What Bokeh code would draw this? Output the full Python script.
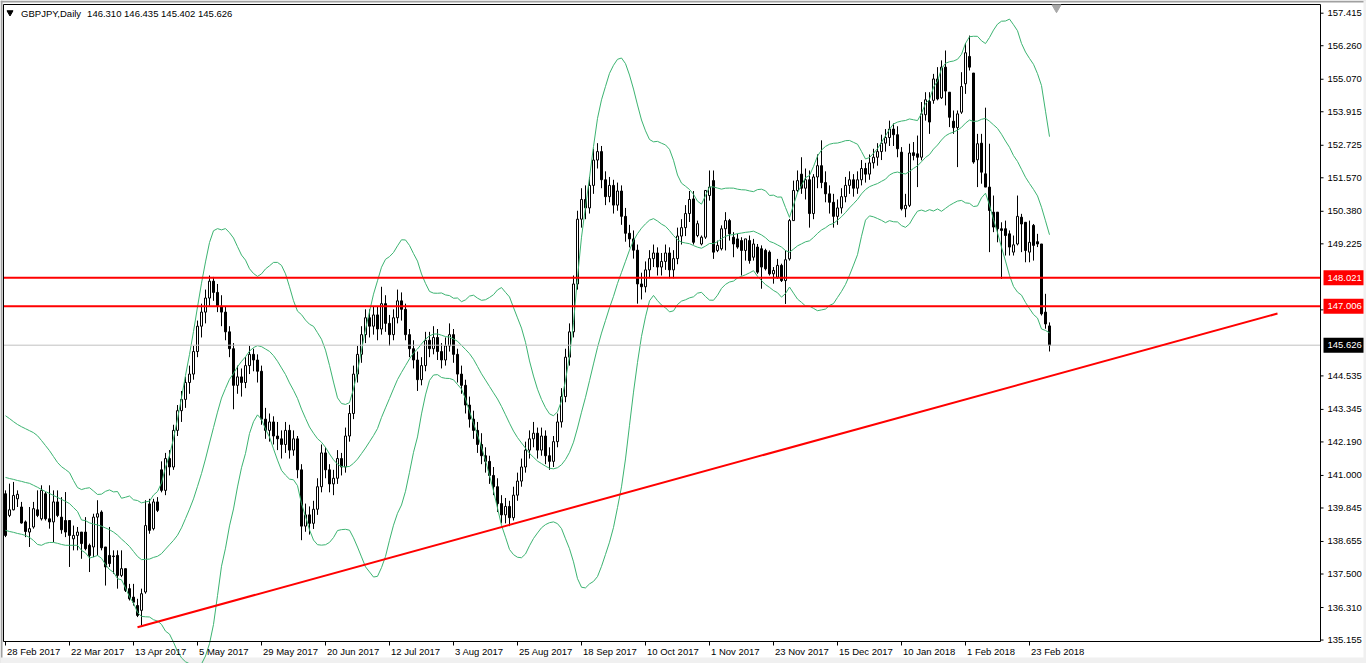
import numpy as np
import pandas as pd
from bokeh.plotting import figure
from bokeh.models import Range1d, Label, ColumnDataSource
from bokeh.core.properties import value
from bokeh.embed import file_html
from bokeh.resources import INLINE

FONT = "Liberation Sans"
FS = "9.5px"

symbol_title = "GBPJPY,Daily"
last_ohlc_text = "146.310 146.435 145.402 145.626"

# trading days shown (daily bars, Christmas / New Year have no bar)
dates = pd.bdate_range("2017-02-28", "2018-03-02")
dates = dates[~dates.isin(pd.to_datetime(["2017-12-25", "2018-01-01"]))]

opens = [
    140.35, 139.58, 139.78, 140.17, 139.88, 139.35, 138.99, 139.17, 139.78, 139.46,
    140.35, 139.46, 139.35, 140.06, 139.52, 139.40, 139.40, 138.75, 138.87, 138.99,
    138.99, 138.52, 138.46, 139.52, 139.70, 138.46, 138.16, 138.14, 138.16, 137.45,
    137.69, 136.98, 136.68, 136.38, 136.21, 136.86, 139.99, 139.11, 140.06, 141.20,
    140.47, 141.60, 141.30, 142.60, 143.30, 143.70, 144.30, 144.60, 145.40, 146.30,
    146.80, 147.30, 147.90, 147.50, 147.00, 146.80, 146.10, 145.50, 144.20, 144.50,
    144.30, 144.90, 145.30, 145.10, 144.70, 143.00, 142.60, 142.90, 142.40, 142.30,
    142.10, 142.60, 141.90, 142.30, 141.20, 139.20, 139.60, 139.30, 139.80, 140.60,
    141.80, 141.20, 140.70, 140.90, 141.60, 141.30, 142.40, 143.20, 144.60, 145.30,
    146.00, 146.60, 146.30, 146.70, 146.20, 147.10, 146.40, 146.00, 146.60, 147.20,
    146.90, 146.00, 145.50, 145.10, 144.40, 144.90, 145.80, 145.50, 145.90, 145.40,
    145.10, 145.60, 146.00, 145.30, 144.60, 144.20, 143.50, 143.00, 142.60, 142.10,
    141.70, 141.50, 141.00, 140.60, 140.00, 139.60, 139.90, 139.50, 140.30, 140.80,
    141.30, 141.90, 142.30, 142.50, 141.90, 142.40, 141.70, 141.50, 142.20, 142.90,
    143.80, 145.20, 146.10, 147.80, 150.10, 150.80, 150.50, 151.30, 152.20, 152.50,
    151.50, 150.90, 151.30, 150.60, 151.10, 150.20, 149.60, 149.40, 149.00, 147.80,
    147.70, 148.30, 148.70, 148.90, 148.40, 148.60, 148.90, 148.30, 148.70, 149.50,
    149.80, 150.30, 150.82, 149.52, 149.22, 149.46, 150.94, 151.47, 148.99, 149.05,
    149.76, 150.05, 149.46, 149.40, 149.34, 148.99, 149.34, 148.75, 149.11, 149.05,
    148.99, 148.93, 148.16, 148.04, 148.46, 147.92, 148.69, 150.05, 151.12, 151.70,
    151.20, 151.50, 150.30, 151.60, 152.00, 151.40, 151.00, 150.70, 150.20, 150.50,
    150.90, 151.30, 151.50, 151.20, 151.50, 151.90, 151.70, 152.10, 152.30, 152.50,
    152.80, 153.00, 153.30, 153.10, 152.48, 150.47, 150.59, 152.46, 152.42, 152.30,
    153.81, 154.28, 154.32, 155.08, 154.41, 155.50, 154.61, 153.58, 153.35, 153.90,
    154.91, 155.88, 155.29, 152.21, 152.80, 151.71, 151.24, 150.35, 150.35, 149.76,
    149.76, 149.58, 148.93, 149.22, 150.17, 149.99, 148.93, 149.88, 149.30, 149.22,
    146.80, 146.310,
]
highs = [
    140.47, 140.71, 140.77, 140.47, 140.06, 139.40, 139.88, 140.06, 140.47, 140.65,
    140.41, 140.65, 140.47, 140.47, 140.23, 140.41, 139.40, 139.22, 139.17, 138.99,
    139.52, 138.58, 139.64, 140.12, 139.76, 138.46, 139.17, 138.34, 138.34, 138.34,
    137.69, 137.15, 137.15, 136.62, 136.98, 140.12, 140.17, 140.17, 140.23, 141.50,
    141.80, 141.90, 142.80, 143.50, 144.00, 144.50, 144.90, 145.60, 146.50, 147.10,
    147.60, 148.10, 148.05, 147.80, 147.40, 147.00, 146.30, 145.70, 144.90, 144.80,
    145.20, 145.60, 145.50, 145.30, 144.90, 143.40, 143.20, 143.10, 142.90, 142.60,
    142.90, 142.80, 142.60, 142.40, 141.40, 140.00, 139.90, 140.10, 140.90, 142.10,
    142.00, 141.40, 141.20, 141.90, 141.80, 142.70, 143.50, 144.90, 145.60, 146.30,
    146.90, 146.90, 147.00, 147.00, 147.70, 147.40, 146.70, 146.90, 147.60, 147.50,
    147.10, 146.20, 145.80, 145.40, 145.20, 146.10, 146.10, 146.30, 146.20, 145.70,
    145.90, 146.40, 146.20, 145.50, 144.90, 144.40, 143.80, 143.30, 142.90, 142.50,
    142.00, 141.70, 141.30, 140.90, 140.30, 140.20, 140.10, 140.60, 141.10, 141.60,
    142.20, 142.60, 142.90, 142.70, 142.70, 142.60, 142.00, 142.40, 143.20, 144.10,
    145.50, 146.40, 148.10, 150.40, 151.20, 151.30, 151.60, 152.60, 152.80, 152.70,
    151.80, 151.60, 151.50, 151.40, 151.30, 150.50, 149.90, 149.70, 149.20, 148.20,
    148.60, 149.00, 149.20, 149.10, 148.90, 149.20, 149.10, 149.00, 149.80, 150.10,
    150.60, 151.10, 151.10, 150.05, 149.52, 151.12, 151.83, 151.83, 149.34, 149.88,
    150.35, 150.11, 149.64, 149.58, 149.46, 149.40, 149.52, 149.40, 149.22, 149.17,
    149.05, 148.99, 148.40, 148.69, 148.52, 148.99, 150.11, 151.47, 151.83, 152.30,
    151.90, 151.83, 151.70, 152.40, 152.90, 151.80, 151.30, 151.00, 150.80, 151.20,
    151.60, 151.80, 151.70, 151.80, 152.20, 152.10, 152.40, 152.60, 152.80, 153.10,
    153.30, 153.60, 153.50, 153.40, 152.66, 151.00, 152.78, 152.84, 153.07, 154.26,
    154.61, 154.61, 155.26, 155.50, 155.74, 156.09, 154.61, 153.96, 153.96, 155.32,
    156.35, 156.62, 155.29, 153.13, 153.13, 154.06, 152.78, 150.94, 150.35, 149.99,
    150.05, 149.70, 149.52, 150.94, 150.29, 149.99, 150.05, 149.93, 149.58, 149.22,
    147.45, 146.435,
]
lows = [
    138.81, 139.52, 139.76, 139.88, 139.29, 138.81, 138.46, 139.11, 139.52, 139.40,
    139.40, 139.11, 138.63, 139.52, 138.93, 138.81, 137.75, 138.34, 138.34, 138.04,
    138.34, 137.57, 138.10, 138.16, 138.34, 137.09, 137.75, 137.51, 136.98, 137.39,
    136.86, 136.56, 136.38, 135.97, 135.67, 136.80, 138.93, 139.05, 139.70, 140.40,
    140.30, 141.00, 141.20, 142.40, 142.90, 143.40, 143.90, 144.40, 145.20, 145.90,
    146.40, 147.00, 147.20, 146.80, 146.30, 145.80, 145.20, 143.35, 143.90, 143.80,
    144.10, 144.60, 144.70, 144.30, 142.80, 142.30, 142.20, 142.10, 141.90, 141.60,
    141.80, 141.60, 141.70, 140.90, 138.70, 139.00, 138.90, 139.10, 139.60, 140.40,
    140.90, 140.40, 140.30, 140.70, 141.00, 141.10, 142.20, 143.00, 144.30, 145.00,
    145.70, 145.90, 146.00, 145.80, 146.00, 146.10, 145.60, 145.80, 146.40, 146.50,
    145.80, 145.20, 144.80, 144.00, 144.20, 144.70, 145.20, 145.30, 145.10, 144.80,
    144.90, 145.40, 145.00, 144.30, 143.90, 143.20, 142.70, 142.30, 141.80, 141.40,
    141.10, 140.70, 140.30, 139.70, 139.30, 139.30, 139.20, 139.40, 140.10, 140.60,
    141.10, 141.60, 142.00, 141.60, 141.70, 141.40, 141.20, 141.30, 142.00, 142.70,
    143.60, 144.90, 145.90, 147.60, 149.80, 150.10, 150.30, 151.00, 151.90, 151.20,
    150.60, 150.70, 150.30, 150.40, 149.90, 149.30, 149.10, 148.70, 147.10, 147.25,
    147.50, 148.00, 148.40, 148.10, 148.10, 148.30, 148.00, 148.00, 148.50, 149.20,
    149.50, 150.00, 149.20, 149.46, 149.17, 149.40, 150.76, 148.69, 148.93, 148.99,
    148.99, 149.34, 148.75, 149.05, 148.10, 148.63, 148.52, 148.63, 148.16, 147.63,
    148.28, 148.10, 147.81, 147.98, 147.87, 147.09, 148.63, 150.05, 151.05, 151.00,
    150.80, 149.80, 150.10, 151.20, 151.20, 150.70, 150.30, 149.80, 149.90, 150.30,
    150.70, 151.00, 150.90, 151.00, 151.30, 151.40, 151.50, 151.90, 152.00, 152.20,
    152.50, 152.70, 152.70, 152.30, 150.41, 150.17, 150.53, 152.19, 151.24, 152.19,
    153.60, 153.13, 154.20, 154.32, 154.37, 154.14, 153.37, 153.13, 151.95, 153.84,
    154.55, 155.38, 152.07, 151.24, 151.36, 151.24, 148.93, 149.64, 149.28, 147.98,
    148.81, 148.81, 148.81, 149.17, 148.93, 148.57, 148.57, 148.63, 149.11, 146.68,
    146.21, 145.402,
]
closes = [
    138.87, 139.78, 140.29, 140.33, 139.31, 139.01, 139.11, 139.82, 139.58, 140.47,
    139.46, 139.35, 140.06, 139.58, 139.07, 138.99, 138.87, 138.87, 138.99, 138.58,
    138.40, 138.16, 139.52, 139.64, 138.43, 137.75, 137.87, 138.12, 137.45, 137.69,
    136.92, 136.62, 136.50, 136.03, 136.80, 139.22, 139.05, 140.06, 139.76, 140.47,
    141.60, 141.30, 142.60, 143.30, 143.70, 144.30, 144.60, 145.40, 146.30, 146.80,
    147.30, 147.90, 147.50, 147.00, 146.80, 146.10, 145.50, 144.20, 144.50, 144.30,
    144.90, 145.30, 145.10, 144.70, 143.00, 142.60, 142.90, 142.40, 142.30, 142.10,
    142.60, 141.90, 142.30, 141.20, 139.20, 139.60, 139.30, 139.80, 140.60, 141.80,
    141.20, 140.70, 140.90, 141.60, 141.30, 142.40, 143.20, 144.60, 145.30, 146.00,
    146.60, 146.30, 146.70, 146.20, 147.10, 146.40, 146.00, 146.60, 147.20, 146.90,
    146.00, 145.50, 145.10, 144.40, 144.90, 145.80, 145.50, 145.90, 145.40, 145.10,
    145.60, 146.00, 145.30, 144.60, 144.20, 143.50, 143.00, 142.60, 142.10, 141.70,
    141.50, 141.00, 140.60, 140.00, 139.60, 139.90, 139.50, 140.30, 140.80, 141.30,
    141.90, 142.30, 142.50, 141.90, 142.40, 141.70, 141.50, 142.20, 142.90, 143.80,
    145.20, 146.10, 147.80, 150.10, 150.80, 150.50, 151.30, 152.20, 152.50, 151.50,
    150.90, 151.30, 150.60, 151.10, 150.20, 149.60, 149.40, 149.00, 147.80, 147.70,
    148.30, 148.70, 148.90, 148.40, 148.60, 148.90, 148.30, 148.70, 149.50, 149.80,
    150.30, 150.80, 149.28, 149.94, 149.46, 151.12, 151.24, 148.93, 149.17, 149.76,
    150.05, 149.58, 149.22, 149.11, 148.99, 149.40, 148.63, 149.22, 148.22, 148.40,
    148.34, 148.16, 148.28, 148.46, 147.92, 148.66, 150.05, 151.12, 151.47, 151.20,
    151.50, 150.30, 151.60, 152.00, 151.40, 151.00, 150.70, 150.20, 150.50, 150.90,
    151.30, 151.50, 151.20, 151.50, 151.90, 151.70, 152.10, 152.30, 152.50, 152.80,
    153.00, 153.30, 153.10, 152.60, 150.47, 150.59, 152.45, 152.36, 152.30, 153.84,
    154.34, 153.55, 155.08, 154.37, 155.50, 154.65, 153.72, 153.35, 153.84, 154.81,
    156.01, 155.50, 152.13, 152.78, 151.77, 151.24, 150.41, 149.82, 149.76, 149.70,
    149.52, 149.11, 149.19, 150.20, 149.93, 148.99, 149.28, 149.17, 149.22, 146.74,
    146.38, 145.626,
]

# Bollinger band values of the first 19 bars (their 20-bar window starts before the chart)
bb_upper_head = [143.12, 143.02, 142.91, 142.81, 142.73, 142.66, 142.59, 142.52, 142.41, 142.24,
                 142.06, 141.88, 141.67, 141.46, 141.31, 141.21, 141.10, 140.82, 140.57]
bb_middle_head = [140.93, 140.89, 140.86, 140.82, 140.79, 140.75, 140.72, 140.65, 140.58, 140.50,
                  140.43, 140.36, 140.29, 140.22, 140.15, 140.08, 140.00, 139.86, 139.72]
bb_lower_head = [139.05, 139.01, 138.98, 138.94, 138.91, 138.87, 138.80, 138.69, 138.55, 138.52,
                 138.59, 138.62, 138.62, 138.59, 138.55, 138.52, 138.52, 138.52, 138.52]

ytick_values = [157.415, 156.260, 155.070, 153.915, 152.725, 151.570, 150.380, 149.225,
                146.880, 144.535, 143.345, 142.190, 141.000, 139.845, 138.655, 137.500,
                136.310, 135.155]
ytick_labels = [f"{v:.3f}" for v in ytick_values]
xtick_idx = list(range(0, 257, 16))
xtick_labels = [f"{dates[i].day} {dates[i].strftime('%b %Y')}" for i in xtick_idx]

tag_levels = [148.021, 147.006, 145.626]
tag_colors = ["#FF0000", "#FF0000", "#000000"]
red_levels = [148.021, 147.006]
bid_price = 145.626
trend_x = [33, 318]
trend_y = [135.61, 146.75]

BB_PERIOD = 20
BB_DEV = 2.0

# ---------------------------------------------------------------------------
# geometry of the MetaTrader window (4 px per bar, 28.16 px per yen)
W, H = 1366, 663
PXB = 4.0
PXY = 28.16
X0 = -1.25
X1 = X0 + W / PXB
Y1 = 157.415 + 12.7 / PXY
Y0 = Y1 - H / PXY
FR_L, FR_R = X0 + 3 / PXB, X0 + 1320 / PXB        # chart frame (price pane)
FR_T, FR_B = Y1 - 4 / PXY, Y1 - 641 / PXY

n = len(closes)
idx = np.arange(n)
cl = pd.Series(closes, dtype=float)
mid = cl.rolling(BB_PERIOD).mean().to_numpy()
sd = cl.rolling(BB_PERIOD).std(ddof=0).to_numpy()
upper = mid + BB_DEV * sd
lower = mid - BB_DEV * sd
hn = len(bb_middle_head)
mid[:hn] = bb_middle_head
upper[:hn] = bb_upper_head
lower[:hn] = bb_lower_head

o = np.array(opens, dtype=float)
c = np.array(closes, dtype=float)
bull = c >= o

p = figure(width=W, height=H, output_backend="svg", toolbar_location=None,
           x_range=Range1d(X0, X1), y_range=Range1d(Y0, Y1),
           x_axis_location=None, y_axis_location=None,
           min_border=0)
p.xgrid.visible = False
p.ygrid.visible = False
p.background_fill_color = "white"
p.border_fill_color = "white"
p.outline_line_color = None

# window chrome
p.quad(left=[X0, X0, X0, X0 + 1363 / PXB], right=[X1, X0 + 2 / PXB, X1, X1],
       bottom=[Y1 - 2 / PXY, Y0, Y0, Y0], top=[Y1, Y1, Y1 - 657 / PXY, Y1],
       fill_color=["#A0A0A0", "#A0A0A0", "#F0F0F0", "#F0F0F0"], line_color=None)

# candles
p.segment(idx, highs, idx, lows, line_color="black", line_width=1)
src_bull = ColumnDataSource(dict(x=idx[bull], top=c[bull], bottom=o[bull]))
src_bear = ColumnDataSource(dict(x=idx[~bull], top=o[~bull], bottom=c[~bull]))
p.vbar(x="x", top="top", bottom="bottom", width=0.5, source=src_bull,
       fill_color="white", line_color="black", line_width=1)
p.vbar(x="x", top="top", bottom="bottom", width=0.5, source=src_bear,
       fill_color="black", line_color="black", line_width=1)

# Bollinger bands (20, 2)
bb_color = "#3CB371"
p.line(idx, upper, line_color=bb_color, line_width=1)
p.line(idx, mid, line_color=bb_color, line_width=1)
p.line(idx, lower, line_color=bb_color, line_width=1)

# bid line, horizontal levels, trend line
p.segment(FR_L, bid_price, FR_R, bid_price, line_color="#C0C0C0", line_width=1)
p.segment([FR_L] * len(red_levels), red_levels, [FR_R] * len(red_levels), red_levels,
          line_color="#FF0000", line_width=2)
p.line(trend_x, trend_y, line_color="#FF0000", line_width=2)

# chart frame
p.line([FR_L, FR_R, FR_R, FR_L, FR_L], [FR_T, FR_T, FR_B, FR_B, FR_T],
       line_color="black", line_width=1)

# price scale (right)
p.segment([FR_R] * len(ytick_values), ytick_values,
          [FR_R + 3 / PXB] * len(ytick_values), ytick_values, line_color="black", line_width=1)
p.text(x=[FR_R + 7 / PXB] * len(ytick_values), y=ytick_values, text=ytick_labels,
       text_font=value(FONT), text_font_size=value(FS), text_color="black",
       text_align="left", text_baseline="middle")

# price tags
p.rect(x=[FR_R + 23 / PXB] * 3, y=tag_levels, width=40 / PXB, height=15, height_units="screen",
       fill_color=tag_colors, line_color=None)
p.text(x=[FR_R + 7 / PXB] * 3, y=tag_levels, text=[f"{v:.3f}" for v in tag_levels],
       text_font=value(FONT), text_font_size=value(FS), text_color="white",
       text_align="left", text_baseline="middle")

# time scale (bottom): tick marks + labels starting just right of the tick
p.segment(xtick_idx, [FR_B] * len(xtick_idx), xtick_idx, [FR_B - 4 / PXY] * len(xtick_idx),
          line_color="black", line_width=1)
p.text(x=[t + 1.5 / PXB for t in xtick_idx], y=[Y1 - 651 / PXY] * len(xtick_idx),
       text=xtick_labels, text_font=value(FONT), text_font_size=value(FS),
       text_color="black", text_align="left", text_baseline="middle")

# header
p.scatter([1.125], [Y1 - 12 / PXY], marker="inverted_triangle", size=6, color="black")
p.add_layout(Label(x=3.9, y=Y1 - 13 / PXY, text=symbol_title, text_font=FONT, text_font_size=FS,
                   text_color="black", text_align="left", text_baseline="middle"))
p.add_layout(Label(x=20.4, y=Y1 - 13 / PXY, text=last_ohlc_text, text_font=FONT,
                   text_font_size=FS, text_color="black", text_align="left",
                   text_baseline="middle"))
# chart shift marker
p.scatter([262.75], [Y1 - 7 / PXY], marker="inverted_triangle", size=9, color="#A8A8A8")

with open("out.html", "w", encoding="utf-8") as f:
    f.write(file_html(p, INLINE))
